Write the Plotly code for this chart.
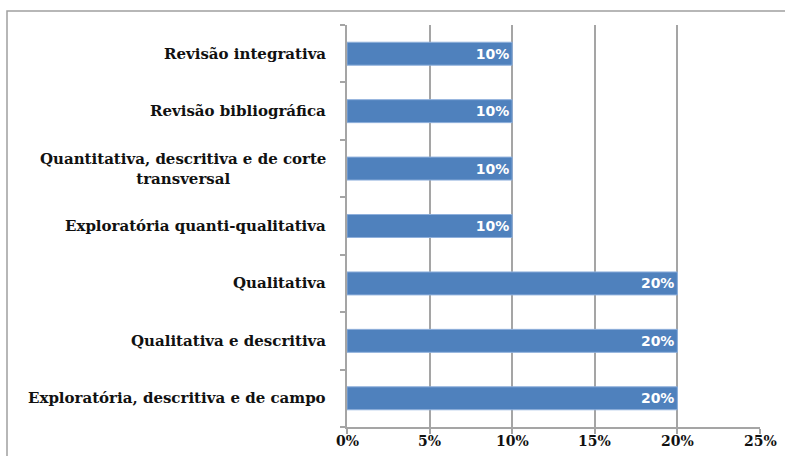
import plotly.graph_objects as go

# Categories listed bottom-to-top (as in the Excel chart)
categories = [
    "Exploratória, descritiva e de campo",
    "Qualitativa e descritiva",
    "Qualitativa",
    "Exploratória quanti-qualitativa",
    "Quantitativa, descritiva e de corte<br>transversal",
    "Revisão bibliográfica",
    "Revisão integrativa",
]
values = [0.20, 0.20, 0.20, 0.10, 0.10, 0.10, 0.10]
x_ticks = [0, 0.05, 0.10, 0.15, 0.20, 0.25]
x_tick_labels = ["0%", "5%", "10%", "15%", "20%", "25%"]

W, H = 785, 456
ML, MR, MT, MB = 347, 25, 25, 29
pw = W - ML - MR
ph = H - MT - MB
GRID = "#a5a5a5"

fig = go.Figure()
fig.add_trace(go.Bar(
    y=categories,
    x=values,
    orientation="h",
    marker=dict(color="#4f81bd", line=dict(color="#8fb0dc", width=1)),
    text=[f"{int(round(v * 100))}%" for v in values],
    textposition="inside",
    insidetextanchor="end",
    textfont=dict(family="DejaVu Sans", size=14, color="white", weight="bold"),
    cliponaxis=False,
    hoverinfo="skip",
))

# Category labels as annotations (centered multi-line)
for c in categories:
    fig.add_annotation(
        x=0, xref="paper", y=c, yref="y",
        text=c, showarrow=False,
        xanchor="right", yanchor="middle", xshift=-19,
        align="center",
        font=dict(family="DejaVu Serif", size=15, color="#111111", weight="bold"),
    )

# X tick labels placed close under the axis
for tv, tl in zip(x_ticks, x_tick_labels):
    fig.add_annotation(
        x=tv, xref="x", y=0, yref="paper",
        text=tl, showarrow=False,
        xanchor="center", yanchor="middle", yshift=-14,
        font=dict(family="DejaVu Serif", size=14, color="#111111", weight="bold"),
    )

# Chart border (Excel chart area), partially cropped
fig.add_shape(
    type="rect", xref="paper", yref="paper",
    x0=(7 - ML) / pw, x1=2.0,
    y0=-1.0, y1=(H - MB - 11) / ph,
    line=dict(color="#a0a0a0", width=1.5),
    fillcolor="rgba(0,0,0,0)", layer="below",
)

fig.update_layout(
    width=W, height=H,
    margin=dict(l=ML, r=MR, t=MT, b=MB, autoexpand=False),
    paper_bgcolor="white", plot_bgcolor="white",
    showlegend=False,
    bargap=0.6,
    xaxis=dict(
        range=[0, 0.25], automargin=False,
        tickvals=x_ticks, showticklabels=False,
        showgrid=True, gridcolor=GRID, gridwidth=2,
        showline=True, linecolor=GRID, linewidth=2,
        ticks="outside", ticklen=5, tickcolor=GRID, tickwidth=2,
        zeroline=False, fixedrange=True,
    ),
    yaxis=dict(
        categoryorder="array", categoryarray=categories,
        showticklabels=False, automargin=False,
        showline=True, linecolor=GRID, linewidth=2,
        ticks="outside", ticklen=5, tickcolor=GRID, tickwidth=2,
        tickson="boundaries",
        showgrid=False, fixedrange=True,
    ),
)

fig.write_html(
    "out.html",
    config={"displayModeBar": False, "staticPlot": True},
    post_script="document.body.style.margin='0px';document.body.style.overflow='hidden';",
)
